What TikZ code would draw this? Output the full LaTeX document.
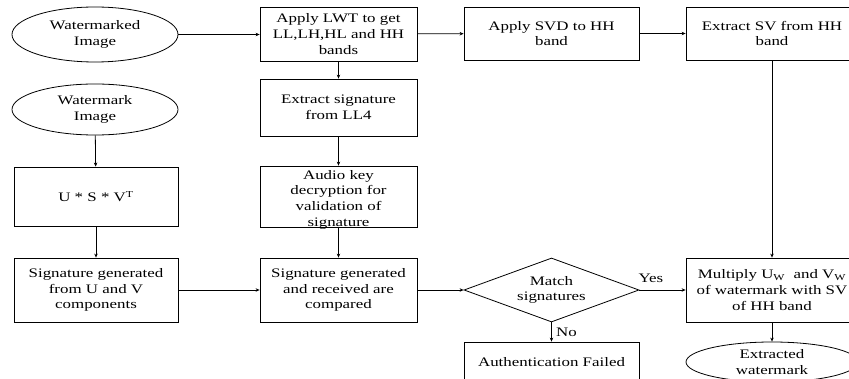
\documentclass[tikz,border=0pt]{standalone}
\usepackage{fontspec}
\setmainfont{Liberation Serif}[FakeStretch=1.3]
\usetikzlibrary{shapes.geometric,arrows.meta}
\begin{document}
\begin{tikzpicture}[x=1pt,y=-1pt,
  font=\fontsize{13}{15.7}\selectfont,
  box/.style={draw, rectangle, line width=0.8pt, align=center, inner sep=0pt},
  oval/.style={draw, ellipse, line width=0.8pt, align=center, inner sep=0pt},
  decision/.style={draw, diamond, aspect=2.7, line width=0.8pt, align=center, inner sep=0pt},
  arr/.style={-{Stealth[length=4pt,width=3.5pt]}, line width=0.8pt}]
\useasboundingbox (0,0) rectangle (849,379);
\clip (0,0) rectangle (849,379);

\node[oval, minimum width=166pt, minimum height=55pt] (wmd) at (95,34.5) {Watermarked\\Image};
\node[box, minimum width=157pt, minimum height=54pt] (lwt) at (338.5,34) {Apply LWT to get\\LL,LH,HL and HH\\bands};
\node[box, minimum width=175pt, minimum height=53pt] (svd) at (551.5,33.5) {Apply SVD to HH\\band};
\node[box, minimum width=172pt, minimum height=53pt] (esv) at (772,33.5) {Extract SV from HH\\band};

\node[oval, minimum width=166pt, minimum height=51pt] (wm) at (95,109.5) {Watermark\\Image};
\node[box, minimum width=157pt, minimum height=57pt] (exs) at (338.5,107.5) {Extract signature\\from LL4};

\node[box, minimum width=164pt, minimum height=59pt] (usv) at (96,196.5) {U * S * V\textsuperscript{T}};
\node[box, minimum width=157pt, minimum height=61pt] (aud) at (338.5,196.5) {};
\node[align=center, inner sep=0pt] (audtext) at (338.5,199.5) {Audio key\\decryption for\\validation of\\signature};

\node[box, minimum width=164pt, minimum height=64pt] (sg) at (96,290) {Signature generated\\from U and V\\components};
\node[box, minimum width=157pt, minimum height=64pt] (sc) at (338.5,290) {Signature generated\\and received are\\compared};
\node[decision, minimum width=175pt, minimum height=64pt] (match) at (551.5,290) {Match\\signatures};
\node[box, minimum width=172pt, minimum height=64pt] (mul) at (772,290) {Multiply U\textsubscript{W}\ \ and V\textsubscript{W}\\of watermark with SV\\of HH band};

\node[box, minimum width=175pt, minimum height=40pt] (af) at (551.5,362) {Authentication Failed};
\node[oval, minimum width=172pt, minimum height=40pt] (ew) at (772,362) {Extracted\\watermark};

\draw[arr] (wmd.east) -- (wmd.east -| lwt.west);
\draw[arr] (lwt) -- (svd);
\draw[arr] (svd) -- (esv);
\draw[arr] (lwt) -- (exs);
\draw[arr] (exs) -- (aud);
\draw[arr] (aud) -- (sc);
\draw[arr] (wm) -- (usv);
\draw[arr] (usv) -- (sg);
\draw[arr] (sg) -- (sc);
\draw[arr] (sc) -- (match);
\draw[arr] (match) -- node[pos=0.25, above=4pt] {Yes} (mul);
\draw[arr] (match) -- node[right=1pt] {No} (af);
\draw[arr] (esv) -- (mul);
\draw[arr] (mul) -- (ew);
\end{tikzpicture}
\end{document}
